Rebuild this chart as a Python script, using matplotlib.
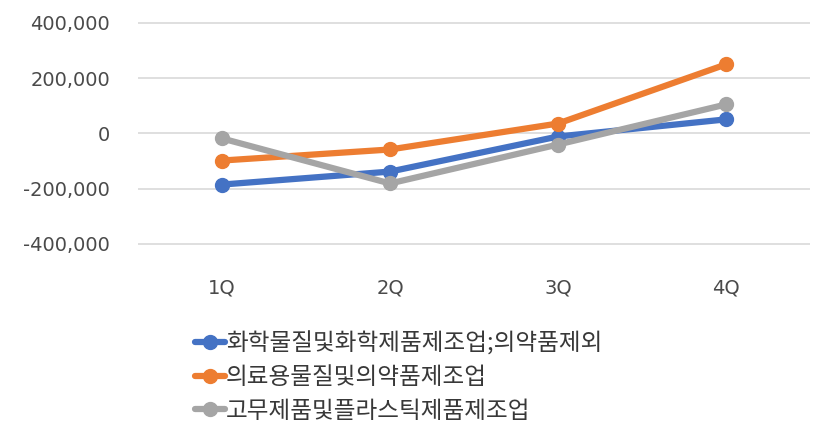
import matplotlib
matplotlib.use("Agg")
import matplotlib.pyplot as plt
from matplotlib.ticker import FuncFormatter

plt.rcParams['font.family'] = ['Noto Sans CJK KR', 'DejaVu Sans']

quarters = ['1Q', '2Q', '3Q', '4Q']
chem = [-185000, -138000, -11000, 51000]
pharma = [-98000, -58000, 36000, 250000]
rubber = [-18000, -181000, -40000, 105000]

labels = ['화학물질및화학제품제조업;의약품제외',
          '의료용물질및의약품제조업',
          '고무제품및플라스틱제품제조업']
colors = ['#4472C4', '#ED7D31', '#A5A5A5']
yticks = [-400000, -200000, 0, 200000, 400000]

W, H = 815, 426
fig = plt.figure(figsize=(W / 100, H / 100), dpi=100)
# axes box in pixels: left 138, right 810, top 10, bottom 255
ax = fig.add_axes([138 / W, 1 - 255 / H, (810 - 138) / W, 245 / H])

x = list(range(len(quarters)))
for vals, lab, col in zip([chem, pharma, rubber], labels, colors):
    ax.plot(x, vals, color=col, lw=4.5, marker='o', ms=10, label=lab,
            solid_capstyle='round', solid_joinstyle='round')

ax.set_xlim(-0.5, 3.5)
ax.set_ylim(-440000, 447000)
ax.set_yticks(yticks)
ax.yaxis.set_major_formatter(FuncFormatter(lambda v, p: f'{int(v):,}'))
ax.set_xticks(x)
ax.set_xticklabels(quarters)
ax.grid(axis='y', color='#D9D9D9', lw=1.2)
ax.set_axisbelow(True)
for s in ax.spines.values():
    s.set_visible(False)
ax.tick_params(length=0, labelsize=14, colors='#4a4a4a')
ax.tick_params(axis='y', pad=20)
ax.tick_params(axis='x', pad=17)
for t in ax.get_xticklabels() + ax.get_yticklabels():
    t.set_family('DejaVu Sans')

fig.legend(loc='upper left', bbox_to_anchor=(174 / W, 1 - 310 / H),
           frameon=False, fontsize=17, labelspacing=0.45, handlelength=1.25,
           handletextpad=0.05, labelcolor='#383838')

fig.savefig('out.png', dpi=100)
